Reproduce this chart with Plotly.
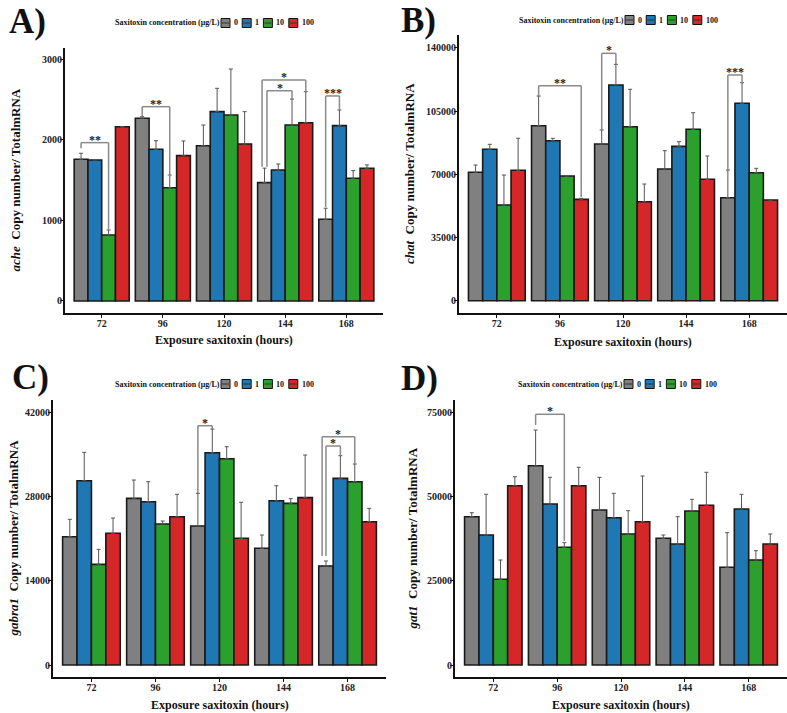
import plotly.graph_objects as go

W, H = 787, 713

hours = ["72", "96", "120", "144", "168"]
conc_labels = ["0", "1", "10", "100"]
conc_colors = ["#808080", "#1F77B4", "#2CA02C", "#D62728"]

# ---- ache (panel A): rows = concentration 0,1,10,100; cols = hours
ache_mean = [[1760, 2270, 1929, 1470, 1015],
             [1752, 1884, 2352, 1627, 2178],
             [820, 1407, 2310, 2186, 1524],
             [2165, 1805, 1950, 2215, 1648]]
ache_err = [[75, 20, 257, 180, 137],
            [5, 107, 290, 75, 195],
            [62, 158, 572, 323, 95],
            [0, 183, 402, 385, 42]]
ache_ticks = [0, 1000, 2000, 3000]

# ---- chat (panel B)
chat_mean = [[71110, 96900, 86780, 72940, 57040],
             [83850, 88600, 119460, 85500, 109320],
             [53000, 69060, 96360, 94920, 70890],
             [72220, 56150, 54830, 67230, 55770]]
chat_err = [[4040, 16460, 7800, 10130, 15340],
            [2760, 1340, 11440, 2560, 11410],
            [16600, 200, 20710, 9200, 2430],
            [17720, 550, 9800, 12900, 0]]
chat_ticks = [0, 35000, 70000, 105000, 140000]

# ---- gabra1 (panel C)
gabra1_mean = [[21310, 27680, 23080, 19380, 16440],
               [30610, 27120, 35260, 27290, 31000],
               [16720, 23420, 34260, 26850, 30440],
               [21870, 24630, 21040, 27790, 23800]]
gabra1_err = [[2890, 3040, 5430, 2210, 830],
              [4710, 3320, 3930, 2490, 3760],
              [2490, 490, 1990, 770, 2940],
              [2540, 3720, 5980, 7080, 2220]]
gabra1_ticks = [0, 14000, 28000, 42000]

# ---- gat1 (panel D)
gat1_mean = [[43980, 59100, 45970, 37570, 28970],
             [38550, 47750, 43690, 35880, 46260],
             [25410, 34900, 38850, 45670, 31140],
             [53180, 53180, 42500, 47360, 35880]]
gat1_err = [[1190, 10590, 9690, 980, 10270],
            [12070, 7910, 7230, 8100, 4360],
            [5730, 1370, 6910, 3470, 2760],
            [2660, 5450, 13550, 9790, 2970]]
gat1_ticks = [0, 25000, 50000, 75000]

# significance brackets: (hour index, from bar, to bar, bracket y, left end y, right end y, label, left x shift)
ache_sig = [(0, 0, 2, 1967, 1897, 890, "**", 0.0),
            (1, 0, 2, 2414, 2290, 1540, "**", 0.0),
            (3, 0, 3, 2745, 1668, 2600, "*", -0.04),
            (3, 0, 2, 2612, 1668, 2509, "*", 0.04),
            (4, 0, 1, 2547, 1168, 2373, "***", 0.0)]
chat_sig = [(1, 0, 3, 119070, 113360, 57500, "**", 0.0),
            (2, 0, 1, 137000, 94500, 130900, "*", 0.0),
            (4, 0, 1, 125000, 72380, 120730, "***", 0.0)]
gabra1_sig = [(2, 0, 1, 39740, 28510, 39190, "*", 0.0),
              (4, 0, 2, 37910, 18100, 33380, "*", -0.06),
              (4, 0, 1, 36370, 18100, 34760, "*", 0.0)]
gat1_sig = [(1, 0, 2, 74350, 71180, 36800, "*", 0.0)]

FONT = "Liberation Serif"
BAR_W = 0.9 / 4

panels = [
    dict(gene="ache", mean=ache_mean, err=ache_err, ticks=ache_ticks, sig=ache_sig,
         yrange=[-150, 3143], xpx=(65, 383), ypx=(48, 313), label="A)", lab_xy=(7, 21),
         ytitle_x=15, leg_xy=(113, 23), xtitle_y=340),
    dict(gene="chat", mean=chat_mean, err=chat_err, ticks=chat_ticks, sig=chat_sig,
         yrange=[-6800, 147150], xpx=(459, 787), ypx=(35, 313), label="B)", lab_xy=(399, 20),
         ytitle_x=410, leg_xy=(517, 20), xtitle_y=342),
    dict(gene="gabra1", mean=gabra1_mean, err=gabra1_err, ticks=gabra1_ticks, sig=gabra1_sig,
         yrange=[-1990, 44010], xpx=(53, 386), ypx=(400, 677), label="C)", lab_xy=(10, 377),
         ytitle_x=13, leg_xy=(113, 384), xtitle_y=705),
    dict(gene="gat1", mean=gat1_mean, err=gat1_err, ticks=gat1_ticks, sig=gat1_sig,
         yrange=[-3560, 78590], xpx=(455, 787), ypx=(400, 677), label="D)", lab_xy=(399, 378),
         ytitle_x=412, leg_xy=(516, 384), xtitle_y=705),
]


def fx(px):
    return px / W


def fy(py):
    return 1 - py / H


fig = go.Figure()
shapes = []
annotations = []

for k, p in enumerate(panels, start=1):
    xa = "x" if k == 1 else f"x{k}"
    ya = "y" if k == 1 else f"y{k}"
    for i, lab in enumerate(conc_labels):
        fig.add_trace(go.Bar(
            x=hours, y=p["mean"][i], name=lab, xaxis=xa, yaxis=ya,
            marker=dict(color=conc_colors[i], line=dict(color="#1a1a1a", width=1.6)),
            error_y=dict(type="data", array=p["err"][i], arrayminus=[0] * len(hours),
                         symmetric=False, color="#555555", thickness=1, width=2),
            showlegend=False,
        ))
    xkey = "xaxis" if k == 1 else f"xaxis{k}"
    ykey = "yaxis" if k == 1 else f"yaxis{k}"
    fig.layout[xkey] = dict(
        domain=[fx(p["xpx"][0]), min(1.0, fx(p["xpx"][1]))], anchor=ya,
        type="category", categoryorder="array", categoryarray=hours,
        range=[-0.6, 4.6], showline=True, linecolor="#111", linewidth=2,
        ticks="outside", ticklen=3, tickwidth=1, tickcolor="#111",
        ticklabelstandoff=-3,
        tickfont=dict(family=FONT, size=10, color="#222", weight="bold"),
        showgrid=False, zeroline=False, fixedrange=True,
    )
    fig.layout[ykey] = dict(
        domain=[fy(p["ypx"][1]), fy(p["ypx"][0])], anchor=xa,
        range=p["yrange"], tickvals=p["ticks"], tickformat="d",
        showline=True, linecolor="#111", linewidth=2,
        ticks="outside", ticklen=3, tickwidth=1, tickcolor="#111",
        ticklabelstandoff=-4,
        tickfont=dict(family=FONT, size=10, color="#222", weight="bold"),
        showgrid=False, zeroline=False, fixedrange=True,
    )
    # significance brackets
    for (g, b0, b1, yb, yl, yr, txt, sh) in p["sig"]:
        xl = g + (b0 - 1.5) * BAR_W + sh
        xr = g + (b1 - 1.5) * BAR_W
        lc = dict(color="#8a8a8a", width=1.5)
        shapes.append(dict(type="line", xref=xa, yref=ya, x0=xl, x1=xl, y0=yl, y1=yb, line=lc))
        shapes.append(dict(type="line", xref=xa, yref=ya, x0=xl, x1=xr, y0=yb, y1=yb, line=lc))
        shapes.append(dict(type="line", xref=xa, yref=ya, x0=xr, x1=xr, y0=yb, y1=yr, line=lc))
        annotations.append(dict(xref=xa, yref=ya, x=(xl + xr) / 2, y=yb, text=txt,
                                showarrow=False, yanchor="bottom", yshift=-6,
                                font=dict(family=FONT, size=12, color="#222", weight="bold")))
    # y-axis title
    ymid = (p["ypx"][0] + p["ypx"][1]) / 2
    annotations.append(dict(xref="paper", yref="paper", x=fx(p["ytitle_x"]), y=fy(ymid),
                            text=f"<i>{p['gene']}</i>  Copy number/ TotalmRNA", textangle=-90,
                            showarrow=False, xanchor="center", yanchor="middle",
                            font=dict(family=FONT, size=13, color="#111", weight="bold")))
    # x-axis title
    xmid = (p["xpx"][0] + p["xpx"][1]) / 2
    annotations.append(dict(xref="paper", yref="paper", x=fx(xmid), y=fy(p["xtitle_y"]),
                            text="Exposure saxitoxin (hours)", showarrow=False,
                            xanchor="center", yanchor="middle",
                            font=dict(family=FONT, size=12, color="#111", weight="bold")))
    # panel label
    annotations.append(dict(xref="paper", yref="paper", x=fx(p["lab_xy"][0]), y=fy(p["lab_xy"][1]),
                            text=p["label"], showarrow=False, xanchor="left", yanchor="middle",
                            font=dict(family=FONT, size=35, color="#111", weight="bold")))
    # legend (drawn manually to match compact ggplot legend)
    lx, ly = p["leg_xy"]
    annotations.append(dict(xref="paper", yref="paper", x=fx(lx), y=fy(ly),
                            text="Saxitoxin concentration (μg/L)", showarrow=False,
                            xanchor="left", yanchor="middle",
                            font=dict(family=FONT, size=8, color="#111", weight="bold")))
    kx = lx + 108
    for i, lab in enumerate(conc_labels):
        shapes.append(dict(type="rect", xref="paper", yref="paper",
                           x0=fx(kx), x1=fx(kx + 9), y0=fy(ly + 4.5), y1=fy(ly - 4.5),
                           fillcolor=conc_colors[i], line=dict(color="#111", width=1)))
        shapes.append(dict(type="line", xref="paper", yref="paper",
                           x0=fx(kx + 1), x1=fx(kx + 8), y0=fy(ly), y1=fy(ly),
                           line=dict(color="#333", width=1)))
        annotations.append(dict(xref="paper", yref="paper", x=fx(kx + 11), y=fy(ly),
                                text=lab, showarrow=False, xanchor="left", yanchor="middle",
                                font=dict(family=FONT, size=8, color="#111", weight="bold")))
        kx += 12 + 4.2 * len(lab) + 5

fig.update_layout(
    width=W, height=H, margin=dict(l=0, r=0, t=0, b=0),
    plot_bgcolor="white", paper_bgcolor="white",
    barmode="group", bargap=0.1, bargroupgap=0, showlegend=False,
    shapes=shapes, annotations=annotations,
)

fig.write_html("out.html", config={"displayModeBar": False},
               post_script="document.body.style.margin='0';document.body.style.overflow='hidden';")
